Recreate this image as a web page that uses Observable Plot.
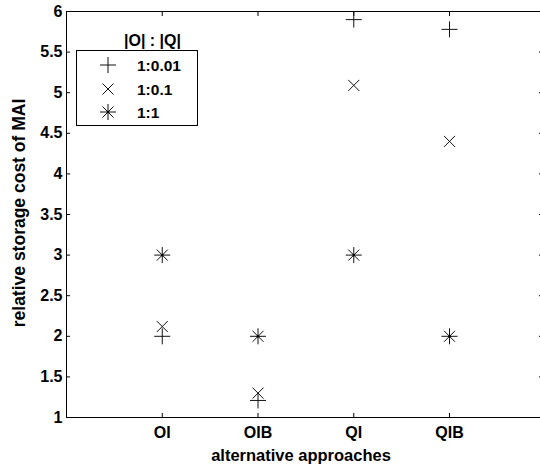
<!DOCTYPE html>
<html><head><meta charset="utf-8">
<script src="https://cdn.jsdelivr.net/npm/d3@7"></script>
<script src="https://cdn.jsdelivr.net/npm/@observablehq/plot@0.6"></script>
<style>body{margin:0;background:#fff} #chart{position:relative;width:540px;height:466px}</style>
</head><body><div id="chart"></div>
<script>
// ---- data ----
const approaches = ["OI", "OIB", "QI", "QIB"];
const ratios = ["1:0.01", "1:0.1", "1:1"];
const cost_1_001 = [2.0, 1.21, 5.90, 5.78];
const cost_1_01 = [2.12, 1.30, 5.09, 4.40];
const cost_1_1 = [3.0, 2.0, 3.0, 2.0];
const yTicks = [1, 1.5, 2, 2.5, 3, 3.5, 4, 4.5, 5, 5.5, 6];
const xTicks = [1, 2, 3, 4];
const legendTitle = "|O| : |Q|";

// ---- symbols (MATLAB-like markers) ----
const symPlus = {draw(c) { const a = 8; c.moveTo(-a, 0); c.lineTo(a, 0); c.moveTo(0, -a); c.lineTo(0, a); }};
const symTimes = {draw(c) { const a = 5.5; c.moveTo(-a, -a); c.lineTo(a, a); c.moveTo(-a, a); c.lineTo(a, -a); }};
const symAst = {draw(c) { const a = 8, b = 5.5; c.moveTo(-a, 0); c.lineTo(a, 0); c.moveTo(0, -a); c.lineTo(0, a);
  c.moveTo(-b, -b); c.lineTo(b, b); c.moveTo(-b, b); c.lineTo(b, -b); }};
const symbols = [symPlus, symTimes, symAst];
const series = [cost_1_001, cost_1_01, cost_1_1];

const rows = (vals) => approaches.map((a, i) => ({x: i + 1, y: vals[i], a}));

const marks = [
  Plot.axisX(xTicks, {anchor: "bottom", tickSize: 0, tickPadding: 9, fontSize: 16, tickFormat: (d) => approaches[d - 1], label: null}),
  Plot.axisX(xTicks, {anchor: "bottom", tickSize: -4, tickFormat: () => "", label: null}),
  Plot.axisX(xTicks, {anchor: "top", tickSize: -4, tickFormat: () => "", label: null}),
  Plot.axisY(yTicks, {anchor: "left", tickSize: 0, tickPadding: 4, fontSize: 16, tickFormat: (d) => String(d), label: null}),
  Plot.axisY(yTicks, {anchor: "left", tickSize: -4, tickFormat: () => "", label: null}),
  Plot.axisY(yTicks, {anchor: "right", tickSize: -2, tickFormat: () => "", label: null}),
  Plot.ruleY([1, 6], {stroke: "black"}),
  Plot.ruleX([0], {stroke: "black"})
];
series.forEach((vals, k) => {
  marks.push(Plot.dot(rows(vals), {x: "x", y: "y", symbol: symbols[k], stroke: "#111", strokeWidth: 1, fill: "none"}));
});
marks.push(Plot.dot(rows(cost_1_1), {x: "x", y: "y", r: 1.3, fill: "black", stroke: "none"}));

const chart = Plot.plot({
  width: 540, height: 466,
  marginLeft: 66, marginRight: 0, marginTop: 11, marginBottom: 49,
  style: {fontFamily: "'Liberation Sans', Arial, sans-serif", fontSize: "16px", fontWeight: "bold", background: "white", color: "black"},
  x: {domain: [0, 4.95]},
  y: {domain: [1, 6]},
  marks
});
document.getElementById("chart").appendChild(chart);

// ---- axis titles & legend ----
const svg = d3.select(chart);
const font = "'Liberation Sans', Arial, sans-serif";
svg.append("text").attr("x", 301).attr("y", 461).attr("text-anchor", "middle")
  .attr("font-family", font).attr("font-size", 16.5).attr("font-weight", "bold").attr("fill", "black")
  .text("alternative approaches");
svg.append("text").attr("transform", "translate(25,213) rotate(-90)").attr("text-anchor", "middle")
  .attr("font-family", font).attr("font-size", 17.5).attr("font-weight", "bold").attr("fill", "black")
  .text("relative storage cost of MAI");

const lg = svg.append("g");
lg.append("text").attr("x", 152.5).attr("y", 46).attr("text-anchor", "middle")
  .attr("font-family", font).attr("font-size", 16).attr("font-weight", "bold").attr("fill", "black")
  .text(legendTitle);
lg.append("rect").attr("x", 76.5).attr("y", 50.5).attr("width", 121).attr("height", 75)
  .attr("fill", "white").attr("stroke", "black").attr("stroke-width", 1);
const rowY = [65, 89, 112];
ratios.forEach((r, k) => {
  lg.append("path").attr("transform", `translate(108,${rowY[k]})`).attr("d", d3.symbol().type(symbols[k])())
    .attr("fill", "none").attr("stroke", "#111").attr("stroke-width", 1);
  if (k === 2) lg.append("circle").attr("cx", 108).attr("cy", rowY[k]).attr("r", 1.3).attr("fill", "black");
  lg.append("text").attr("x", 137).attr("y", rowY[k] + 5.5).attr("text-anchor", "start")
    .attr("font-family", font).attr("font-size", 15.5).attr("font-weight", "bold").attr("fill", "black")
    .text(r);
});
</script></body></html>
